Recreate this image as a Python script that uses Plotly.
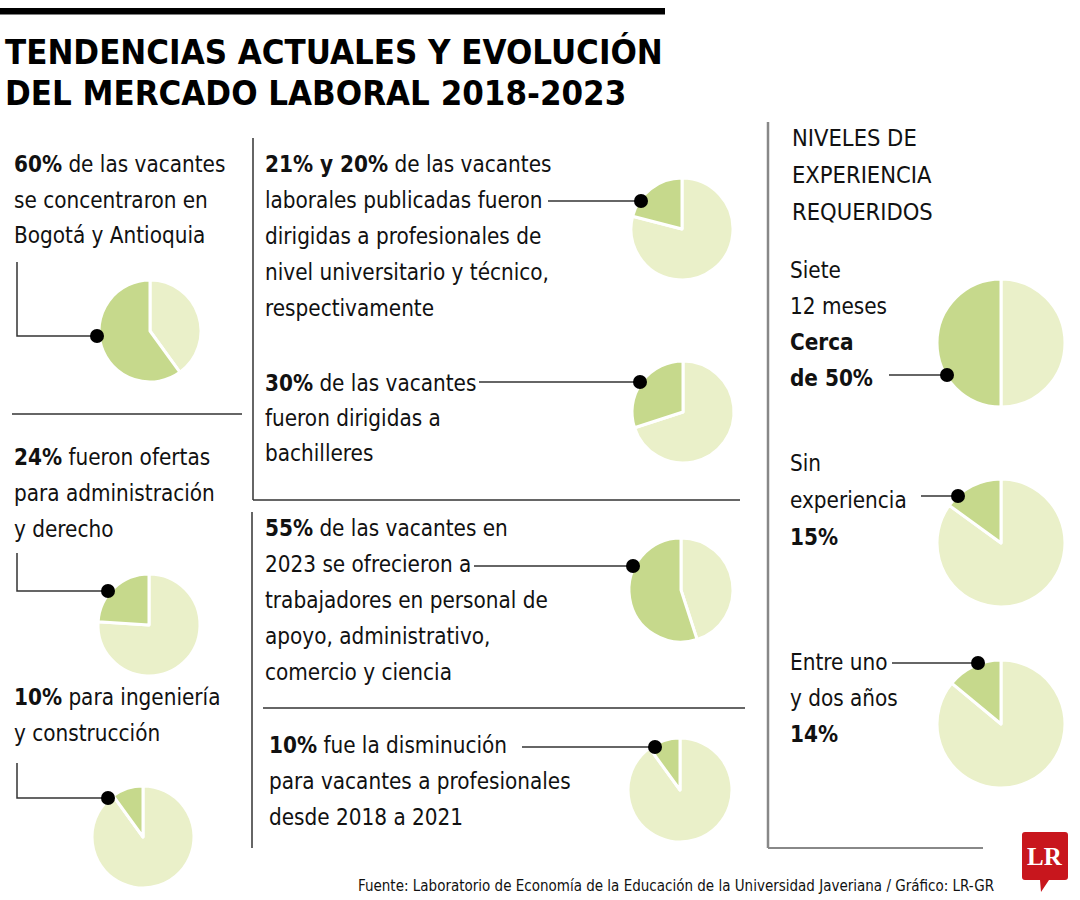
import plotly.graph_objects as go

W, H = 1080, 900

# ---------------- data ----------------
pie_names = [
    "Bogotá y Antioquia",
    "Profesionales universitarios",
    "Bachilleres",
    "Administración y derecho",
    "Ingeniería y construcción",
    "Apoyo, administrativo, comercio y ciencia",
    "Disminución vacantes a profesionales",
    "Siete a 12 meses",
    "Sin experiencia",
    "Entre uno y dos años",
]
pie_values = [60, 21, 30, 24, 10, 55, 10, 50, 15, 14]

title_lines = ["TENDENCIAS ACTUALES Y EVOLUCIÓN", "DEL MERCADO LABORAL 2018-2023"]

block_texts = [
    ["<b>60%</b> de las vacantes", "se concentraron en", "Bogotá y Antioquia"],
    ["<b>21% y 20%</b> de las vacantes", "laborales publicadas fueron",
     "dirigidas a profesionales de", "nivel universitario y técnico,", "respectivamente"],
    ["<b>30%</b> de las vacantes", "fueron dirigidas a", "bachilleres"],
    ["<b>24%</b> fueron ofertas", "para administración", "y derecho"],
    ["<b>10%</b> para ingeniería", "y construcción"],
    ["<b>55%</b> de las vacantes en", "2023 se ofrecieron a", "trabajadores en personal de",
     "apoyo, administrativo,", "comercio y ciencia"],
    ["<b>10%</b> fue la disminución", "para vacantes a profesionales", "desde 2018 a 2021"],
    ["Siete", "12 meses", "<b>Cerca</b>", "<b>de 50%</b>"],
    ["Sin", "experiencia", "<b>15%</b>"],
    ["Entre uno", "y dos años", "<b>14%</b>"],
]
side_title = ["NIVELES DE", "EXPERIENCIA", "REQUERIDOS"]
source_text = "Fuente: Laboratorio de Economía de la Educación de la Universidad Javeriana / Gráfico: LR-GR"

# ---------------- layout / style ----------------
FONT = "DejaVu Sans Condensed, Liberation Sans Narrow, sans-serif"
DARK = "#c6d98c"
LIGHT = "#eaf0c9"
INK = "#111111"
LINE = "#333333"

# pie centre (px) and radius (px)
pie_geo = [
    (150, 331, 51), (682, 229, 51), (683, 412, 51), (149, 625, 51), (143, 837, 51),
    (681, 590, 52), (680, 790, 52), (1001, 343, 64), (1001, 543, 64), (1001, 724, 64),
]
# leader dot positions and line paths
dots = [(97, 336), (641, 201), (640, 382), (108, 591), (108, 798),
        (633, 566), (655, 747), (947, 375), (958, 496), (978, 663)]
leaders = [
    [(17, 262), (17, 336), (97, 336)],
    [(548, 201), (641, 201)],
    [(479, 382), (640, 382)],
    [(17, 553), (17, 591), (108, 591)],
    [(17, 763), (17, 798), (108, 798)],
    [(474, 566), (633, 566)],
    [(522, 747), (655, 747)],
    [(889, 375), (947, 375)],
    [(921, 496), (958, 496)],
    [(892, 663), (978, 663)],
]
# text block anchors: x, first-line y centre, line spacing, font size
block_pos = [
    (12, 164, 35.5, 22.3), (263, 164, 36, 22.3), (263, 383, 35, 22.3), (12, 457, 36, 22.3),
    (12, 697, 36, 22.3), (263, 528, 36, 22.3), (267, 745, 36, 22.3),
    (788, 270, 36, 22.3), (788, 463, 37, 22.3), (788, 662, 36, 22.3),
]

fig = go.Figure()

for name, v, (cx, cy, r) in zip(pie_names, pie_values, pie_geo):
    fig.add_trace(go.Pie(
        values=[100 - v, v],
        labels=["Resto", name],
        sort=False, direction="clockwise", rotation=0,
        marker=dict(colors=[LIGHT, DARK], line=dict(color="white", width=3)),
        textinfo="none", hoverinfo="label+percent", showlegend=False,
        domain=dict(x=[(cx - r) / W, (cx + r) / W], y=[1 - (cy + r) / H, 1 - (cy - r) / H]),
    ))

# invisible cartesian frame in pixel units
fig.add_trace(go.Scatter(x=[0, W], y=[0, H], mode="markers", marker=dict(opacity=0),
                         hoverinfo="skip", showlegend=False))

shapes = []
# top thick bar
shapes.append(dict(type="rect", x0=0, x1=665, y0=8, y1=14.5, fillcolor="black", line=dict(width=0)))
# separators
sep = [
    ((12, 414), (242, 414), LINE, 1.5),
    ((253, 138), (253, 500), LINE, 1.5),
    ((253, 500), (740, 500), LINE, 1.5),
    ((252, 512), (252, 848), LINE, 1.5),
    ((263, 708), (745, 708), LINE, 1.5),
    ((768, 122), (768, 848), "#888888", 2.5),
    ((768, 848), (983, 848), "#888888", 2),
]
for (x0, y0), (x1, y1), c, w in sep:
    shapes.append(dict(type="line", x0=x0, y0=y0, x1=x1, y1=y1, line=dict(color=c, width=w)))
for pts in leaders:
    path = "M " + " L ".join(f"{x},{y}" for x, y in pts)
    shapes.append(dict(type="path", path=path, line=dict(color=LINE, width=1.5), layer="above"))
for x, y in dots:
    shapes.append(dict(type="circle", x0=x - 7, x1=x + 7, y0=y - 7, y1=y + 7,
                       fillcolor="black", line=dict(width=0), layer="above"))
# LR logo
shapes.append(dict(type="path",
                   path="M 1025,832 L 1065,832 Q 1068,832 1068,835 L 1068,877 Q 1068,880 1065,880 "
                        "L 1049,880 L 1041,892 L 1040,880 L 1025,880 Q 1022,880 1022,877 L 1022,835 "
                        "Q 1022,832 1025,832 Z",
                   fillcolor="#c8161d", line=dict(width=0), layer="above"))

ann = []
for i, t in enumerate(title_lines):
    ann.append(dict(x=3, y=[52, 93][i], text=f"<b>{t}</b>", xanchor="left", yanchor="middle",
                    showarrow=False, font=dict(family=FONT, size=34.5, color="black")))
for lines, (x, y0, dy, fs) in zip(block_texts, block_pos):
    for i, t in enumerate(lines):
        ann.append(dict(x=x, y=y0 + i * dy, text=t, xanchor="left", yanchor="middle",
                        showarrow=False, font=dict(family=FONT, size=fs, color=INK)))
for i, t in enumerate(side_title):
    ann.append(dict(x=790, y=138 + i * 37, text=t, xanchor="left", yanchor="middle",
                    showarrow=False, font=dict(family=FONT, size=23.5, color=INK)))
ann.append(dict(x=996, y=886, text=source_text, xanchor="right", yanchor="middle",
                showarrow=False, font=dict(family=FONT, size=15, color=INK)))
ann.append(dict(x=1045, y=856, text="<b>LR</b>", xanchor="center", yanchor="middle",
                showarrow=False, font=dict(family="Liberation Serif, DejaVu Serif, serif", size=25, color="white")))

fig.update_layout(
    width=W, height=H, margin=dict(l=0, r=0, t=0, b=0),
    paper_bgcolor="white", plot_bgcolor="white",
    xaxis=dict(range=[0, W], visible=False, fixedrange=True),
    yaxis=dict(range=[H, 0], visible=False, fixedrange=True),
    shapes=shapes, annotations=ann, showlegend=False,
)

fig.write_html("out.html", config={"displayModeBar": False},
               post_script="document.body.style.margin='0px';")
